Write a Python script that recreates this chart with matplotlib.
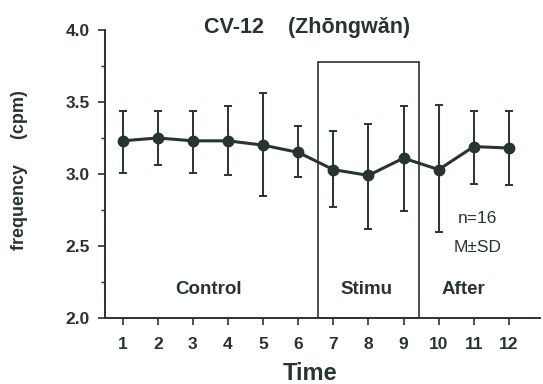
import matplotlib.pyplot as plt
from matplotlib.patches import Rectangle
import numpy as np

plt.rcParams["font.family"] = ["Liberation Sans", "DejaVu Sans"]
plt.rcParams["font.weight"] = "bold"

time = np.arange(1, 13)
mean = [3.23, 3.25, 3.23, 3.23, 3.20, 3.15, 3.03, 2.99, 3.11, 3.03, 3.19, 3.18]
upper = [3.44, 3.44, 3.44, 3.47, 3.56, 3.33, 3.30, 3.35, 3.47, 3.48, 3.44, 3.44]
lower = [3.01, 3.06, 3.01, 2.99, 2.85, 2.98, 2.77, 2.62, 2.74, 2.60, 2.93, 2.92]

phases = ["Control", "Stimu", "After"]
phase_x = [3.45, 7.95, 10.7]
stim_start, stim_end, box_top = 6.55, 9.45, 3.78

ink = "#27352f"

err_lo = np.array(mean) - np.array(lower)
err_hi = np.array(upper) - np.array(mean)

fig = plt.figure(figsize=(5.43, 3.84), dpi=100)
ax = fig.add_axes([0.193, 0.172, 0.801, 0.75])

ax.errorbar(time, mean, yerr=[err_lo, err_hi], color=ink, lw=2.2,
            marker="o", ms=7.5, mfc=ink, mec=ink,
            ecolor=ink, elinewidth=1.4, capsize=3, capthick=1.4, zorder=3)

ax.add_patch(Rectangle((stim_start, 2.0), stim_end - stim_start, box_top - 2.0,
                       fill=False, edgecolor=ink, lw=1.2, zorder=2))

for label, x in zip(phases, phase_x):
    ax.text(x, 2.2, label, ha="center", va="center", fontsize=13.5,
            fontweight="bold", color=ink)

ax.text(11.12, 2.69, "n=16", ha="center", va="center", fontsize=12.5, color=ink,
        fontweight="normal")
ax.text(11.12, 2.49, "M\u00b1SD", ha="center", va="center", fontsize=12.5,
        color=ink, fontweight="normal")

ax.set_xlim(0.49, 12.88)
ax.set_ylim(2.0, 4.0)
ax.set_xticks(time)
ax.set_yticks([2.0, 2.5, 3.0, 3.5, 4.0])
ax.set_yticks([2.25, 2.75, 3.25, 3.75], minor=True)
ax.set_yticklabels(["2.0", "2.5", "3.0", "3.5", "4.0"])
ax.tick_params(axis="both", which="major", direction="out", length=5, width=1.2,
               colors=ink, labelsize=12.5)
ax.tick_params(axis="y", which="minor", direction="out", length=3, width=1.0,
               colors=ink)
ax.tick_params(axis="x", pad=9)
ax.tick_params(axis="y", pad=6)
for lab in ax.get_xticklabels() + ax.get_yticklabels():
    lab.set_fontweight("bold")

for side in ["top", "right"]:
    ax.spines[side].set_visible(False)
for side in ["left", "bottom"]:
    ax.spines[side].set_color(ink)
    ax.spines[side].set_linewidth(1.4)

fig.text(307 / 543, 1 - 28 / 384, "CV-12    (Zh\u014dngw\u01cen)", fontsize=15.5,
         fontweight="bold", color=ink, ha="center", va="center")
fig.text(310 / 543, 1 - 373 / 384, "Time", fontsize=17, fontweight="bold",
         color=ink, ha="center", va="center")
fig.text(20 / 543, 1 - 170 / 384, "frequency     (cpm)", fontsize=13,
         fontweight="bold", color=ink, ha="center", va="center", rotation=90)

fig.savefig("out.png", dpi=100, facecolor="white")
